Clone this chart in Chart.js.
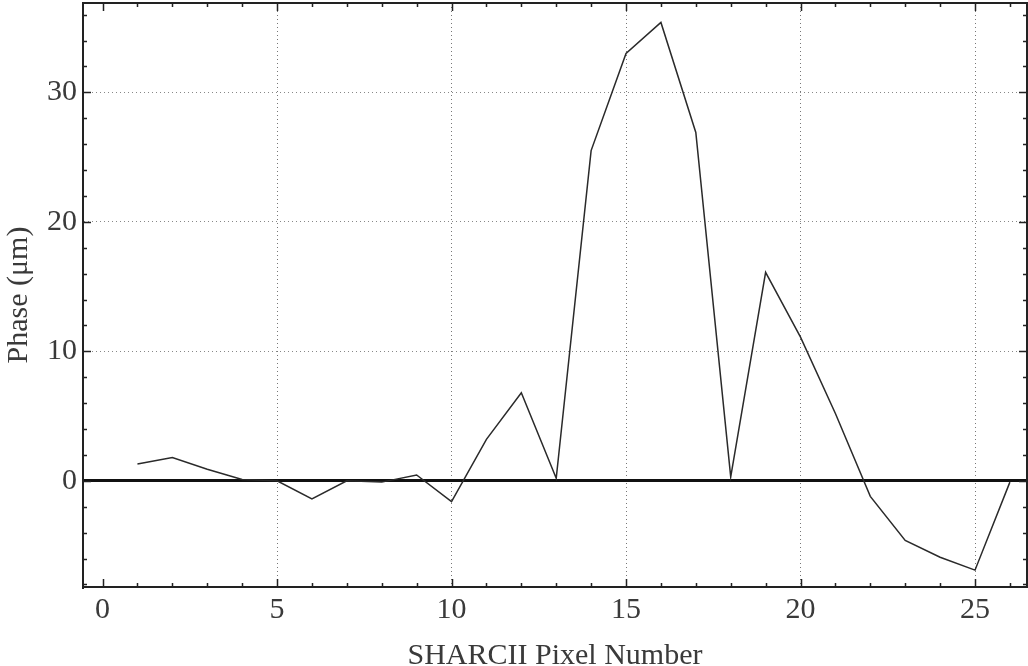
<!DOCTYPE html>
<html>
<head>
<meta charset="utf-8">
<script src="https://cdn.jsdelivr.net/npm/chart.js@4"></script>
<style>
  html, body { margin: 0; padding: 0; background: #fff; }
  #wrap { width: 1028px; height: 666px; position: relative; }
</style>
</head>
<body>
<div id="wrap"><canvas id="phaseChart"></canvas></div>
<script>
// pixel numbers along the SHARCII array
const pixelNumber = [1, 2, 3, 4, 5, 6, 7, 8, 9, 10, 11, 12, 13,
                     14, 15, 16, 17, 18, 19, 20, 21, 22, 23, 24, 25, 26];
// measured phase in microns
const phase = [1.3, 1.8, 0.9, 0.1, 0.0, -1.4, 0.0, -0.1, 0.45, -1.6, 3.2, 6.8, 0.2,
               25.5, 33.0, 35.4, 26.9, 0.3, 16.1, 11.1, 5.2, -1.2, -4.6, -5.9, -6.9, -0.1];

// labelled ticks
const xTickValues = [0, 5, 10, 15, 20, 25];
const yTickValues = [0, 10, 20, 30];

const xRange = { min: -0.56, max: 26.49 };
const yRange = { min: -8.2, max: 36.9 };

const frameColor = '#222';
const textColor = '#3a3a3a';
const serif = "'Liberation Serif', 'DejaVu Serif', serif";

// small inward ticks on all four sides, like a framed plot
const frameTicks = {
  id: 'frameTicks',
  afterDraw(chart) {
    const { ctx, chartArea } = chart;
    const xs = chart.scales.x;
    const ys = chart.scales.y;
    ctx.save();
    ctx.strokeStyle = frameColor;
    ctx.lineWidth = 1.5;
    ctx.beginPath();
    for (let v = 0; v <= xRange.max; v += 1) {
      const px = Math.round(xs.getPixelForValue(v)) + 0.5;
      const len = v % 5 === 0 ? 8 : 4;
      ctx.moveTo(px, chartArea.bottom);
      ctx.lineTo(px, chartArea.bottom - len);
      ctx.moveTo(px, chartArea.top);
      ctx.lineTo(px, chartArea.top + len);
    }
    for (let v = -8; v <= yRange.max; v += 2) {
      const py = Math.round(ys.getPixelForValue(v)) + 0.5;
      const len = v % 10 === 0 ? 8 : 4;
      ctx.moveTo(chartArea.left, py);
      ctx.lineTo(chartArea.left + len, py);
      ctx.moveTo(chartArea.right, py);
      ctx.lineTo(chartArea.right - len, py);
    }
    ctx.stroke();
    ctx.restore();
  }
};

const gridDash = (c) => (c.tick && c.tick.value === 0 ? [] : [1, 3]);

const ctx = document.getElementById('phaseChart').getContext('2d');
const chart = new Chart(ctx, {
  type: 'line',
  data: {
    datasets: [{
      data: pixelNumber.map((p, i) => ({ x: p, y: phase[i] })),
      borderColor: '#2a2a2a',
      borderWidth: 1.5,
      pointRadius: 0,
      tension: 0,
      fill: false
    }]
  },
  options: {
    responsive: true,
    maintainAspectRatio: false,
    animation: false,
    layout: { padding: { left: 0, right: 1, top: 3, bottom: 0 } },
    plugins: {
      legend: { display: false },
      tooltip: { enabled: false }
    },
    scales: {
      x: {
        type: 'linear',
        position: 'bottom',
        min: xRange.min,
        max: xRange.max,
        afterBuildTicks: (s) => { s.ticks = xTickValues.map(v => ({ value: v })); },
        afterFit: (s) => { s.height = 79; s.paddingLeft = 0; s.paddingRight = 0; },
        grid: {
          color: (c) => (c.tick && c.tick.value === 0 ? 'rgba(0,0,0,0)' : '#777'),
          lineWidth: 1,
          drawTicks: false
        },
        border: { display: true, color: frameColor, width: 2, dash: gridDash },
        ticks: {
          color: textColor,
          padding: 5,
          font: { family: serif, size: 30 },
          callback: (v) => String(v)
        },
        title: {
          display: true,
          text: 'SHARCII Pixel Number',
          color: textColor,
          font: { family: serif, size: 30, lineHeight: 1 },
          padding: { top: 0, bottom: -5 }
        }
      },
      xTop: {
        type: 'linear',
        position: 'top',
        min: xRange.min,
        max: xRange.max,
        afterFit: (s) => { s.height = 0; s.paddingLeft = 0; s.paddingRight = 0; },
        grid: { display: false, drawOnChartArea: false, drawTicks: false },
        border: { display: true, color: frameColor, width: 2 },
        ticks: { display: false }
      },
      y: {
        type: 'linear',
        position: 'left',
        min: yRange.min,
        max: yRange.max,
        afterBuildTicks: (s) => { s.ticks = yTickValues.map(v => ({ value: v })); },
        afterFit: (s) => { s.width = 83; s.paddingTop = 0; s.paddingBottom = 0; },
        grid: {
          color: (c) => (c.tick && c.tick.value === 0 ? '#111' : '#888'),
          lineWidth: (c) => (c.tick && c.tick.value === 0 ? 3 : 1),
          drawTicks: false
        },
        border: { display: true, color: frameColor, width: 2, dash: gridDash },
        ticks: {
          color: textColor,
          padding: 6,
          font: { family: serif, size: 30 },
          callback: (v) => String(v)
        },
        title: {
          display: true,
          text: 'Phase (\u03bcm)',
          color: textColor,
          font: { family: serif, size: 30, lineHeight: 1 },
          padding: { top: 4, bottom: 0 }
        }
      },
      yRight: {
        type: 'linear',
        position: 'right',
        min: yRange.min,
        max: yRange.max,
        afterFit: (s) => { s.width = 0; s.paddingTop = 0; s.paddingBottom = 0; },
        grid: { display: false, drawOnChartArea: false, drawTicks: false },
        border: { display: true, color: frameColor, width: 2 },
        ticks: { display: false }
      }
    }
  },
  plugins: [frameTicks]
});
</script>
</body>
</html>
